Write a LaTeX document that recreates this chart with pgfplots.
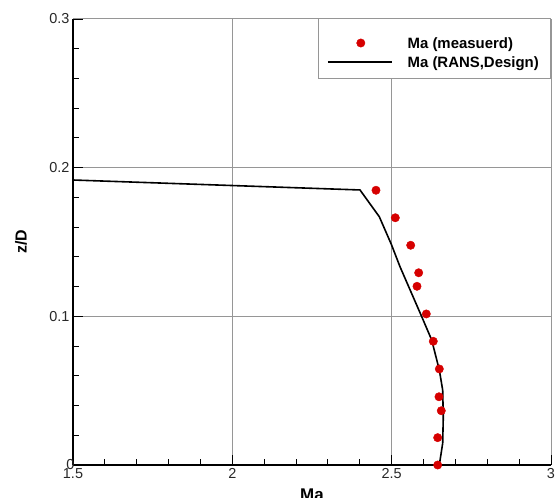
\documentclass[border=0pt]{standalone}
\usepackage{pgfplots}
\pgfplotsset{compat=1.18}
\usepackage{fontspec}
\setmainfont{Liberation Sans}
\definecolor{mkred}{RGB}{214,0,0}
\definecolor{gridgray}{RGB}{150,150,150}
\definecolor{lblgray}{RGB}{40,40,40}
\begin{document}
\begin{tikzpicture}
\begin{axis}[
  scale only axis,
  width=478bp, height=446bp,
  xmin=1.5, xmax=3, ymin=0, ymax=0.3,
  xtick={1.5,2,2.5,3}, ytick={0,0.1,0.2,0.3},
  minor x tick num=4, minor y tick num=4,
  xticklabels={1.5,2,2.5,3},
  yticklabels={0\kern-5bp,0.1,0.2,0.3},
  axis x line*=bottom, axis y line*=left,
  axis line style={line width=1.6bp, -},
  tick align=inside,
  major tick length=10bp, minor tick length=5.5bp,
  tick style={black, line width=0.9bp},
  grid=major,
  major grid style={gridgray, line width=1bp},
  ticklabel style={font=\fontsize{14.5}{16}\selectfont, text=lblgray},
  /pgf/number format/assume math mode=true,
  xlabel={\bfseries Ma}, ylabel={\bfseries z/D},
  xlabel style={font=\fontsize{17}{19}\selectfont, at={(rel axis cs:0.5,0)}, anchor=north, yshift=-24bp, inner sep=0pt},
  ylabel style={font=\fontsize{16}{18}\selectfont, at={(axis description cs:-0.1088,0.5)}, anchor=center, inner sep=0pt},
  legend style={at={(axis description cs:0.5314,0.9585)}, anchor=north west, draw=none, fill=none,
    inner sep=0pt, outer sep=0pt,
    font=\bfseries\fontsize{15}{17}\selectfont,
    nodes={inner sep=0pt, text height=11bp, text depth=0bp},
    row sep=8bp, column sep=15bp},
  legend cell align=left,
  legend image code/.code={\draw[mark repeat=2,mark phase=2,#1] plot coordinates {(0bp,0bp)(33bp,0bp)(64bp,0bp)};},
  clip=false,
]
\draw[gridgray, line width=1bp, fill=white] (axis description cs:0.5126,0.8677) rectangle (axis description cs:0.9985,1);
\addplot[only marks, mark=*, mark size=4.2bp, color=mkred, draw=mkred, fill=mkred] coordinates {
(2.4508,0.1848) (2.5114,0.1663) (2.5597,0.1478) (2.5848,0.1293) (2.5795,0.1202)
(2.6087,0.1016) (2.6306,0.0832) (2.6495,0.0646) (2.6485,0.0459) (2.6557,0.0365)
(2.6444,0.0184) (2.6444,0.0)
};
\addlegendentry{Ma (measuerd)}
\addplot[black, line width=1.6bp, mark=none] coordinates {
(1.5,0.1917) (2.4006,0.1850) (2.4612,0.1670) (2.4988,0.1485) (2.5261,0.1334)
(2.5943,0.0998) (2.6256,0.0841) (2.6495,0.0639) (2.6601,0.0504) (2.6620,0.0325)
(2.6601,0.0146) (2.6495,0.0)
};
\addlegendentry{Ma (RANS,Design)}
\coordinate (sw) at (rel axis cs:0,0);
\coordinate (ne) at (rel axis cs:1,1);
\end{axis}
\pgfresetboundingbox
\path[use as bounding box] ([xshift=-73bp,yshift=-33bp]sw) rectangle ([xshift=5bp,yshift=19bp]ne);
\end{tikzpicture}
\end{document}
